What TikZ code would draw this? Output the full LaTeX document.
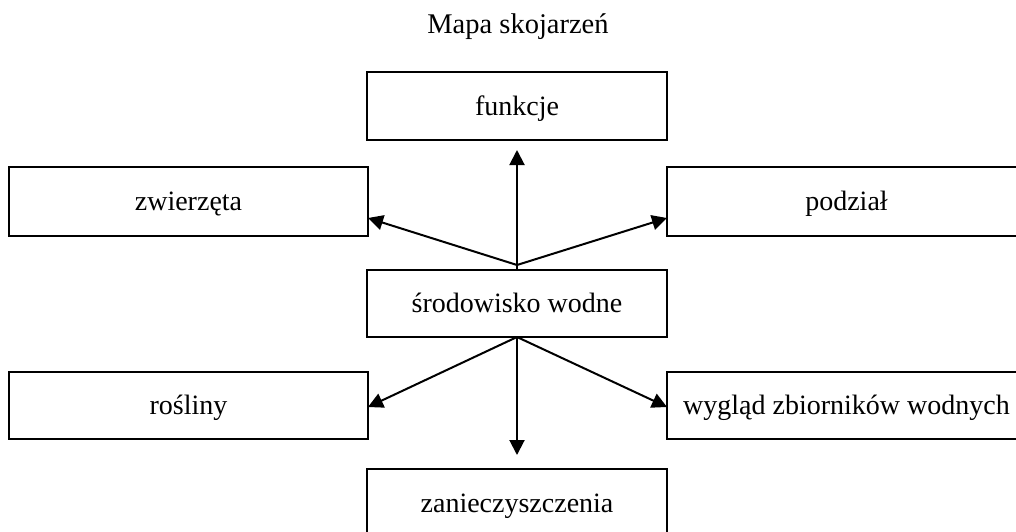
\documentclass[tikz,border=0pt]{standalone}
\usepackage{fontspec}
\setmainfont{Liberation Serif}
\usetikzlibrary{arrows.meta}
\begin{document}
\begin{tikzpicture}[x=1pt,y=-1pt,
  box/.style={draw,line width=2.6pt,inner sep=0pt,outer sep=0pt,
    text height=20pt,text depth=2pt,
    font=\fontsize{28}{32}\selectfont},
  arr/.style={line width=2pt,-{Triangle[length=15pt,width=15pt]}}]
\useasboundingbox (0,0) rectangle (1016,531);
\clip (0,0) rectangle (1016,531);
\node[font=\fontsize{28.5}{32}\selectfont,anchor=base] (title) at (518,33) {Mapa skojarzeń};
\node[box,minimum width=300pt,minimum height=68pt] (fun) at (517,106) {funkcje};
\node[box,minimum width=359pt,minimum height=69pt] (zw) at (188.5,201.5) {zwierzęta};
\node[box,minimum width=359pt,minimum height=69pt] (pod) at (846.5,201.5) {podział};
\node[box,minimum width=300pt,minimum height=67pt] (sro) at (517,303.5) {środowisko wodne};
\node[box,minimum width=359pt,minimum height=67pt] (ros) at (188.5,405.5) {rośliny};
\node[box,minimum width=359pt,minimum height=67pt] (wyg) at (846.5,405.5) {wygląd zbiorników wodnych};
\node[box,minimum width=300pt,minimum height=68pt] (zan) at (517,503) {zanieczyszczenia};
\coordinate (jt) at (517,265);
\coordinate (zwt) at (368,218);
\coordinate (podt) at (667,218);
\coordinate (rost) at (368,407);
\coordinate (wygt) at (667,407);
\draw[arr,shorten >=10pt] (sro.north) -- (fun.south);
\draw[arr] (jt) -- (zwt);
\draw[arr] (jt) -- (podt);
\draw[arr] (sro.south) -- (rost);
\draw[arr] (sro.south) -- (wygt);
\draw[arr,shorten >=14pt] (sro.south) -- (zan.north);
\end{tikzpicture}
\end{document}
